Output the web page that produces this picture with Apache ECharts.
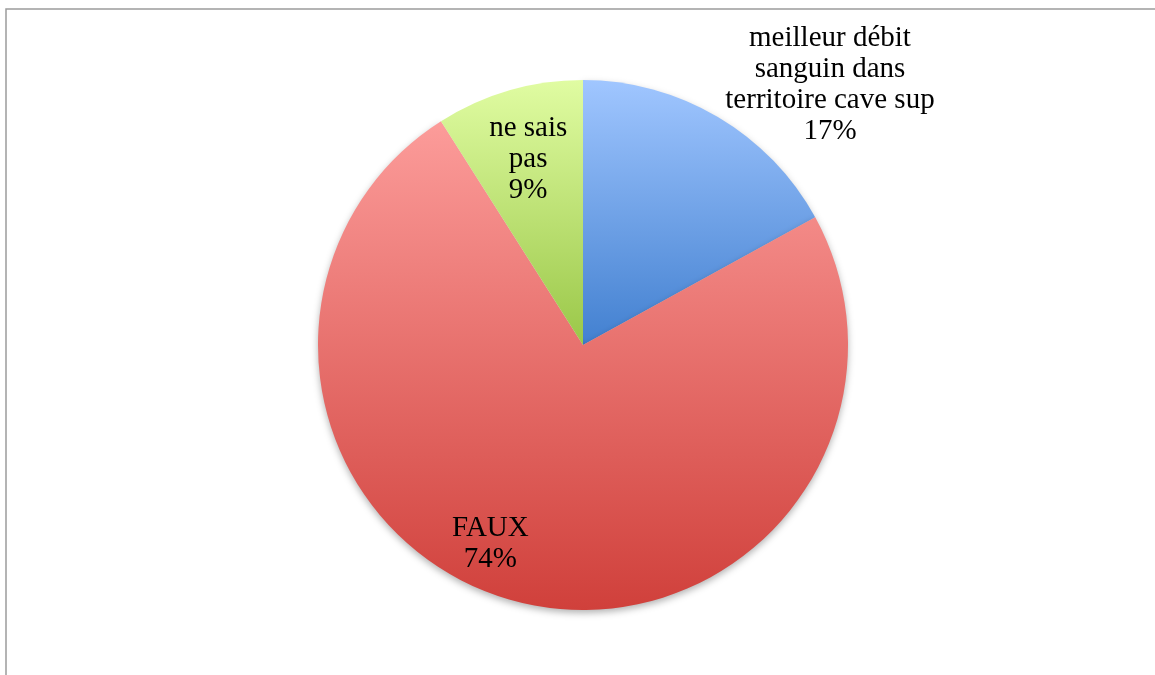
<!DOCTYPE html>
<html>
<head>
<meta charset="utf-8">
<script src="https://cdn.jsdelivr.net/npm/echarts@6/dist/echarts.min.js"></script>
<style>
html,body{margin:0;padding:0;background:#fff;}
#chart{width:1155px;height:675px;}
</style>
</head>
<body>
<div id="chart"></div>
<script>
const categories = ['meilleur débit\nsanguin dans\nterritoire cave sup', 'FAUX', 'ne sais\npas'];
const values = [17, 74, 9];
const colorTop = ['#a0c6ff', '#fc9c9a', '#e0fca2'];
const colorBottom = ['#4280d0', '#d0403b', '#9ac748'];
const labelShift = [[178, -143], [-59, 68], [-17, -55]];
const sliceShadow = [0.25, 0.3, 0];

const chart = echarts.init(document.getElementById('chart'));
chart.setOption({
  animation: false,
  backgroundColor: '#fff',
  graphic: [{
    type: 'rect',
    shape: { x: 6, y: 9, width: 1170, height: 700 },
    style: { fill: 'none', stroke: '#9c9c9c', lineWidth: 1.5 },
    silent: true
  }],
  series: [{
    type: 'pie',
    center: [583, 345],
    radius: [0, 265],
    startAngle: 90,
    clockwise: true,
    avoidLabelOverlap: false,
    label: {
      show: true,
      position: 'inside',
      formatter: p => p.name + '\n' + p.value + '%',
      fontFamily: 'Liberation Serif',
      fontSize: 29,
      lineHeight: 31,
      color: '#000',
      align: 'center'
    },
    labelLine: { show: false },
    labelLayout: p => ({ dx: labelShift[p.dataIndex][0], dy: labelShift[p.dataIndex][1] }),
    emphasis: { disabled: true },
    data: categories.map((c, i) => ({
      name: c,
      value: values[i],
      itemStyle: {
        color: {
          type: 'linear', x: 0, y: 0, x2: 0, y2: 1,
          colorStops: [{ offset: 0, color: colorTop[i] }, { offset: 1, color: colorBottom[i] }]
        },
        borderWidth: 0,
        shadowBlur: 7,
        shadowOffsetY: 3,
        shadowColor: 'rgba(0,0,0,' + sliceShadow[i] + ')'
      }
    }))
  }]
});
</script>
</body>
</html>
